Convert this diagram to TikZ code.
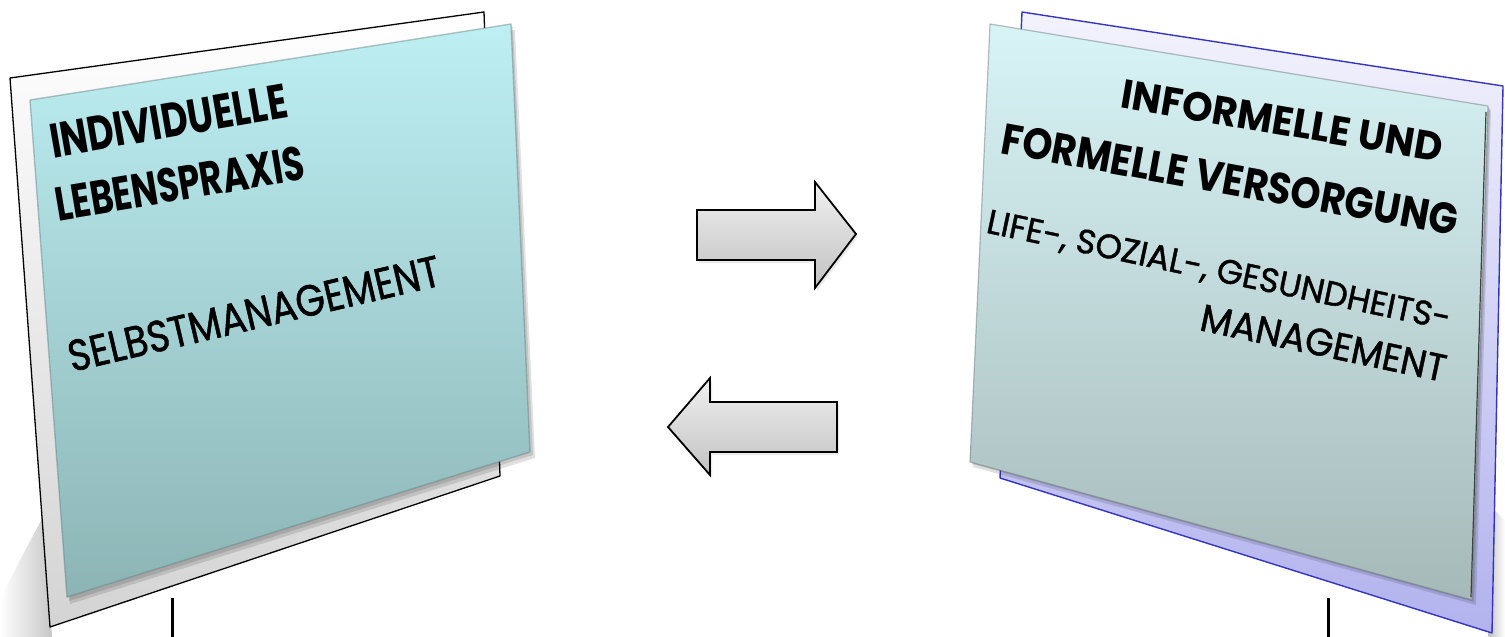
\documentclass[tikz,border=0pt]{standalone}
\usepackage{fontspec}
\setmainfont{Poppins}
\newfontfamily\medfont[FakeBold=1.2]{Poppins}
\definecolor{lfTop}{HTML}{BDEFF3}
\definecolor{lfBot}{HTML}{8CB4B5}
\definecolor{rfTop}{HTML}{D8F4F6}
\definecolor{rfBot}{HTML}{A6B9B9}
\definecolor{rbTop}{HTML}{F3F3FD}
\definecolor{rbBot}{HTML}{B2B2EE}
\definecolor{rbLine}{HTML}{3434C0}
\begin{document}
\begin{tikzpicture}[x=1pt,y=-1pt,
  lbl/.style={inner sep=0pt, outer sep=0pt, text=black},
  arrowshape/.style={draw=black, line width=1.8pt, line join=miter, top color=black!6, bottom color=black!24},
  tickline/.style={draw=black, line width=3pt},
  softshadow/.style={fill=black, opacity=0.12}]
\useasboundingbox (0,0) rectangle (1505,637);

% ---- ground shadows ----
\shade[left color=white, right color=black!22] (0,600) -- (20,560) -- (44,515) -- (52,637) -- (0,637) -- cycle;
\shade[left color=black!24, right color=white] (1489,505) -- (1505,520) -- (1505,637) -- (1488,637) -- cycle;

% ---- left panel ----
\shade[top color=white, bottom color=black!17] (10,78) -- (484,12) -- (500,476) -- (50,627) -- cycle;
\draw[black, line width=1.3pt, line join=round] (10,78) -- (484,12) -- (500,476) -- (50,627) -- cycle;
\fill[softshadow] (33,104) -- (515,30) -- (535,458) -- (70,604) -- cycle;
\fill[softshadow] (32,102) -- (513,27) -- (533,455) -- (69,601) -- cycle;
\shade[top color=lfTop, bottom color=lfBot] (30,100) -- (511,24) -- (530,452) -- (67,597) -- cycle;
\draw[lfBot!70!black, opacity=0.45, line width=1.4pt, line join=round] (30,100) -- (511,24) -- (530,452) -- (67,597) -- cycle;

\node[lbl, anchor=base west, rotate=9.8] (t1) at (53,158) {\resizebox{240pt}{34pt}{\bfseries INDIVIDUELLE}};
\node[lbl, anchor=base west, rotate=9.5] (t2) at (58,221) {\resizebox{252pt}{34pt}{\bfseries LEBENSPRAXIS}};
\node[lbl, anchor=base west, rotate=13.2] (t3) at (72,372) {\resizebox{381pt}{31pt}{\medfont SELBSTMANAGEMENT}};

% ---- right panel ----
\shade[top color=rbTop, bottom color=rbBot] (1022,12) -- (1503,86) -- (1492,633) -- (1000,478) -- cycle;
\draw[rbLine, line width=1.4pt, line join=round] (1022,12) -- (1503,86) -- (1492,633) -- (1000,478) -- cycle;
\fill[softshadow] (993,28) -- (1491,110) -- (1476,605) -- (973,467) -- cycle;
\fill[softshadow] (992,26) -- (1490,108) -- (1474,602) -- (972,464) -- cycle;
\shade[top color=rfTop, bottom color=rfBot] (990,24) -- (1488,106) -- (1472,600) -- (970,462) -- cycle;
\draw[rfBot!60!black, opacity=0.45, line width=1.2pt, line join=round] (990,24) -- (1488,106) -- (1472,600) -- (970,462) -- cycle;
\draw[black!75, line width=1.2pt] (1486,112) -- (1471,597);

\node[lbl, anchor=base east, rotate=-9.6] (t4) at (1440,162) {\resizebox{325pt}{29pt}{\bfseries INFORMELLE UND}};
\node[lbl, anchor=base east, rotate=-10.3] (t5) at (1455,236) {\resizebox{463pt}{31pt}{\bfseries FORMELLE VERSORGUNG}};
\node[lbl, anchor=base east, rotate=-11.9] (t6) at (1448,330) {\resizebox{473pt}{24pt}{\medfont LIFE-, SOZIAL-, GESUNDHEITS-}};
\node[lbl, anchor=base east, rotate=-12] (t7) at (1443,382) {\resizebox{250pt}{27pt}{\medfont MANAGEMENT}};

% ---- arrows ----
\fill[black, opacity=0.08] (699,213) -- (817,213) -- (817,185) -- (858,237) -- (817,291) -- (817,263) -- (699,263) -- cycle;
\path[arrowshape] (697,210) -- (815,210) -- (815,182) -- (856,234) -- (815,288) -- (815,260) -- (697,260) -- cycle;
\fill[black, opacity=0.08] (670,430) -- (712,381) -- (712,405) -- (839,405) -- (839,455) -- (712,455) -- (712,478) -- cycle;
\path[arrowshape] (668,427) -- (710,378) -- (710,402) -- (837,402) -- (837,452) -- (710,452) -- (710,475) -- cycle;

% ---- ticks ----
\coordinate (lt1) at (172,598);
\coordinate (lt2) at (172,637);
\coordinate (rt1) at (1328,598);
\coordinate (rt2) at (1328,637);
\draw[tickline] (lt1) -- (lt2);
\draw[tickline] (rt1) -- (rt2);
\end{tikzpicture}
\end{document}
